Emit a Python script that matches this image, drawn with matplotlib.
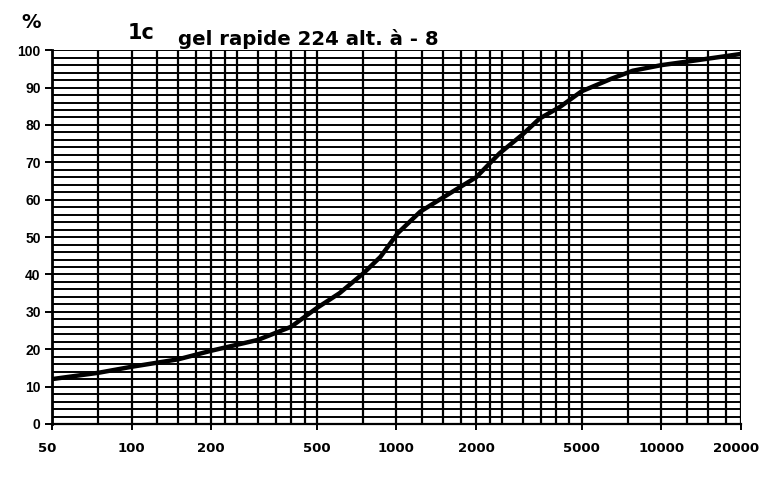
import matplotlib
matplotlib.use("Agg")
import matplotlib.pyplot as plt
from matplotlib.ticker import FixedLocator, NullFormatter, NullLocator
from matplotlib.transforms import ScaledTranslation

# Data
size_x = [50, 75, 100, 150, 200, 300, 400, 500, 610, 750, 870, 1010, 1230,
          1590, 2000, 2450, 3000, 3470, 4140, 5000, 6500, 7800, 10000,
          13600, 20000]
pct_y = [12, 13.7, 15.3, 17.3, 19.6, 22.5, 26, 31, 35, 40.3, 44.7, 51, 56.8,
         61.7, 66, 72.4, 77.5, 81.7, 84.8, 89, 92.4, 94.5, 96, 97.3, 99]

x_ticks = [50, 100, 200, 500, 1000, 2000, 5000, 10000, 20000]
x_tick_labels = ["50", "100", "200", "500", "1000", "2000", "5000", "10000", "20000"]
y_ticks = [0, 10, 20, 30, 40, 50, 60, 70, 80, 90, 100]
x_grid = [50, 75, 100, 125, 150, 175, 200, 225, 250, 300, 350, 400, 450, 500, 750,
          1000, 1250, 1500, 1750, 2000, 2250, 2500, 3000, 3500, 4000, 4500, 5000,
          7500, 10000, 12500, 15000, 17500, 20000]
y_grid = list(range(0, 101, 2))

plt.rcParams['font.family'] = ['Liberation Sans', 'DejaVu Sans']

fig = plt.figure(figsize=(7.62, 4.78), dpi=100)
ax = fig.add_axes([0.068, 0.113, 0.9045, 0.782])

ax.set_xscale('log')
ax.set_xlim(50, 20000)
ax.set_ylim(0, 100)

for gx in x_grid:
    ax.axvline(gx, color='black', lw=1.6, zorder=1)
for gy in y_grid:
    ax.axhline(gy, color='black', lw=1.4, zorder=1)

ax.plot(size_x, pct_y, color='black', lw=3.2, solid_capstyle='round',
        solid_joinstyle='round', zorder=3)

ax.xaxis.set_major_locator(FixedLocator(x_ticks))
ax.xaxis.set_minor_locator(NullLocator())
ax.xaxis.set_minor_formatter(NullFormatter())
ax.set_xticks(x_ticks)
ax.set_xticklabels(x_tick_labels, fontsize=9.5, fontweight='bold',
                   family=['DejaVu Sans'])
ax.set_yticks(y_ticks)
ax.set_yticklabels([str(v) for v in y_ticks], fontsize=10, fontweight='bold')
ax.tick_params(axis='x', length=4, width=1.4, pad=9, direction='out')
ax.tick_params(axis='y', length=5, width=1.4, pad=3, direction='out')

# keep the last x label inside the figure
xl = ax.get_xticklabels()
xl[-1].set_horizontalalignment('right')
xl[-1].set_transform(xl[-1].get_transform() +
                     ScaledTranslation(18 / 100, 0, fig.dpi_scale_trans))
xl[0].set_transform(xl[0].get_transform() +
                    ScaledTranslation(-5 / 100, 0, fig.dpi_scale_trans))

for s in ['top', 'right']:
    ax.spines[s].set_visible(False)
ax.spines['left'].set_linewidth(2)
ax.spines['bottom'].set_linewidth(1.6)

fig.text(31 / 762, 1 - 22 / 478, "%", fontsize=14, fontweight='bold',
         ha='center', va='center', family=['DejaVu Sans'])
fig.text(128 / 762, 1 - 39 / 478, "1c", fontsize=15, fontweight='bold',
         ha='left', va='baseline', family=['DejaVu Sans'])
fig.text(178 / 762, 1 - 45 / 478, "gel rapide 224 alt. à - 8", fontsize=14.2,
         fontweight='bold', ha='left', va='baseline', family=['DejaVu Sans'])

fig.savefig("out.png", dpi=100)
